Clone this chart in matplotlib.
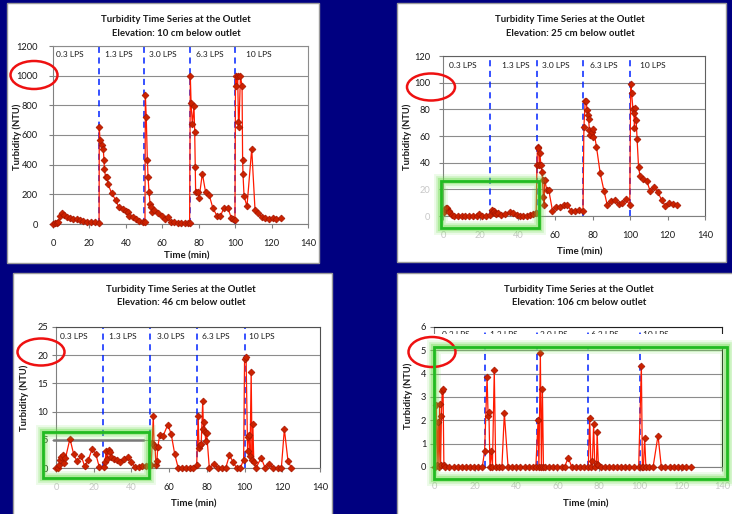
import matplotlib

matplotlib.use("Agg")
import matplotlib.pyplot as plt
from matplotlib.patches import Ellipse, Rectangle

plt.rcParams["font.family"] = ["Lato", "DejaVu Sans"]

W, H = 732, 514
NAVY = "#000080"
LINE_RED = "#ff1a00"
MARK_RED = "#cc2200"
DASH_BLUE = "#0022ff"
GRID = "#8c8c8c"
GLOW = "#66dd44"
BOX_GREEN = "#22bb22"
TEXT = "#1a1a1a"
FADED = "#c8c8c8"

flow_starts = [0, 25, 50, 75, 100]
flow_labels = ["0.3 LPS", "1.3 LPS", "3.0 LPS", "6.3 LPS", "10 LPS"]

# elevation 10 cm below outlet
t10 = [0, 1, 2, 3, 3.8, 4.8, 6, 7.5, 9.3, 11.2, 13, 14.8, 16.7, 18.9, 20.7, 22.9, 25.3,
       25.4, 25.8, 26.7, 27.6, 28.0, 28.2, 28.9, 29.5, 30.3, 32.2, 34.4, 36.2, 38.2, 39.9,
       41.0, 41.9, 43.7, 45.6, 47.4, 49.6, 50.5,
       50.7, 51.2, 51.8, 52.2, 52.7, 53.3, 54.0, 54.5, 55.5, 57.5, 59.7, 61.3, 63.2, 64.8,
       66.7, 68.6, 70.5, 72.4, 74.3, 75.0,
       75.4, 75.8, 76.5, 77.4, 77.8, 78.1, 78.3, 79.6, 80.2, 82.0, 83.8, 85.7, 87.8, 90.0,
       91.9, 93.7, 96.1, 97.9, 98.8, 99.9,
       100.2, 100.7, 101.4, 101.8, 102.1, 102.9, 103.8, 104.1, 104.3, 104.9, 106.5, 109.1,
       110.9, 112.7, 114.6, 116.4, 118.6, 120.8, 122.6, 125.0]
v10 = [0, 5, 9, 13, 54, 72, 61, 49, 43, 36, 31, 27, 22, 11, 13, 11, 9,
       652, 566, 533, 503, 431, 371, 315, 315, 267, 207, 162, 112, 101, 90,
       78, 54, 45, 31, 22, 13, 13,
       867, 721, 429, 317, 216, 133, 115, 79, 92, 77, 55, 35, 45, 15,
       14, 9, 5, 5, 4, 4,
       995, 818, 672, 793, 620, 384, 218, 218, 175, 340, 213, 198, 106, 56,
       52, 106, 106, 40, 34, 29,
       1000, 928, 1000, 688, 654, 1000, 928, 430, 340, 187, 119, 508,
       97, 74, 47, 40, 31, 43, 34, 38]

# elevation 25 cm below outlet
t25 = [0.3, 1, 1.5, 2.3, 3, 3.4, 4.6, 6, 8, 10, 12, 14, 16, 18, 19.5, 21, 23, 25, 26,
       26.5, 27.2, 27.8, 28.5, 29.6, 31, 33, 35.8, 37.6, 39.4, 41, 43, 44.7, 46.5, 48.3,
       49.8, 50.2, 50.5, 51.0, 51.5, 51.8, 52.3, 52.8, 53.2, 53.6, 54.0, 54.3, 55.5, 56.5,
       58.5, 60.5, 62.5, 64.5, 66.5, 68.5, 70.5, 72.5, 74.8,
       75.3, 76.0, 76.5, 77.0, 77.4, 77.8, 78.2, 78.8, 79.4, 80.0, 80.4, 82.0, 84.0, 86.0,
       87.8, 89.8, 91.8, 93.8, 95.8, 98.0, 99.8,
       100.3, 100.8, 101.5, 102.0, 102.3, 102.7, 103.2, 103.7, 104.5, 105.3, 107.0, 109.0,
       110.6, 112.8, 114.8, 116.8, 118.8, 121.0, 123.0, 125.0]
v25 = [3, 5, 6, 6, 4, 3, 1, 0, 0, 0, 0, 0, 0, 0, 1.5, 0, 0, 1, 4.5,
       3, 3.5, 2, 1.5, 2.5, 1, 1.5, 3, 2.5, 1, 0, 0, 0, 1, 1.5,
       2, 38, 52, 51, 38, 47, 38, 33, 27, 14, 8, 27, 19.5, 19.5,
       4, 7, 7, 8, 8, 4, 4, 4.5, 4,
       67, 86, 86, 79.5, 76, 73, 64.5, 61, 63, 59, 65, 52, 32, 19,
       8, 11, 12, 9, 10, 12.5, 8,
       99, 92, 80, 77, 66, 81, 72, 58, 36.5, 30, 28, 26,
       19, 21.5, 18, 12, 7.5, 9.5, 9, 8]

# elevation 46 cm below outlet
t46 = [0, 1, 1.8, 2.3, 2.8, 3.5, 4, 5, 7.4, 9.4, 11.1, 13.4, 15.2, 17.2, 19.2, 21.1,
       23, 25.2, 26.0, 26.6, 27.2, 28.0, 28.8, 29.4, 30.5, 32.3, 34.0, 35.8, 38.2, 40.0,
       41.7, 43.8, 45.6, 47.7, 49.3,
       50.5, 51.0, 51.6, 52.0, 52.5, 53.0, 53.5, 54.0, 55.0, 56.7, 59.3, 61.1, 63.0, 64.8,
       66.8, 68.8, 70.8, 72.8, 74.6,
       75.4, 75.8, 76.3, 77.0, 77.8, 78.2, 78.6, 79.0, 79.4, 79.9, 81.3, 83.7, 85.8, 88.0,
       90.0, 92.0, 93.8, 95.8, 97.8, 99.5,
       100.0, 100.8, 101.6, 102.0, 102.4, 102.9, 103.5, 104.0, 104.4, 104.9, 106.0, 108.8,
       110.9, 113.0, 115.3, 117.6, 119.5, 121.1, 123.0, 124.8]
v46 = [0, 0, 0.5, 1.4, 2, 2.3, 0.8, 1.7, 5.2, 2.4, 1.2, 2.1, 0.3, 1.5, 3.4, 2.5,
       0.1, 0.1, 1.0, 3.1, 1.6, 3.2, 2.9, 2.0, 1.6, 1.4, 1.1, 1.6, 1.9, 1.1,
       0.2, 0.2, 0.3, 0.3, 0.5,
       0.5, 4.5, 9.2, 4.0, 3.8, 0.5, 1.2, 3.8, 5.8, 5.6, 7.7, 6.0, 2.4, 0,
       0, 0, 0, 0, 0.5,
       9.2, 3.5, 4.0, 4.3, 11.8, 7.0, 8.2, 6.4, 4.8, 6.2, 0, 0.7, 0, 0,
       0, 2.3, 1.1, 0, 0, 1.5,
       19.4, 19.7, 3.0, 5.5, 5.8, 2.2, 17.0, 1.4, 7.8, 1.0, 0, 1.8,
       0, 0.7, 0, 0, 0, 6.9, 1.3, 0]

# elevation 106 cm below outlet
t106 = [0.5, 1.1, 1.5, 2.0, 2.4, 2.75, 3.2, 3.6, 4.0, 4.4, 4.8, 5.5, 7.5, 9.5, 11.5, 13.5,
        15.5, 17.5, 19.5, 21.5, 23.5,
        24.6, 25.8, 26.3, 26.7, 27.2, 27.9, 28.4, 29.3, 30.0, 31.5, 33.0, 34.2, 36.0, 38.0,
        40.0, 42.0, 44.0, 46.0, 48.0, 49.5,
        50.6, 51.0, 51.7, 52.2, 52.7, 53.2, 54.0, 56.0, 58.0, 60.0, 62.0, 63.5, 65.2, 67.0,
        69.0, 71.0, 73.0, 75.0,
        75.7, 76.3, 77.0, 77.6, 78.2, 79.0, 79.3, 79.9, 81.0, 83.0, 85.0, 87.0, 89.0, 91.0,
        93.0, 95.0, 97.0, 99.5,
        100.8, 101.3, 101.8, 102.4, 103.0, 104.5, 106.5, 108.9, 110.5, 112.5, 114.5, 116.5,
        118.5, 120.5, 122.5, 125.0]
v106 = [0, 2.65, 0.1, 1.95, 0, 2.7, 0.1, 2.2, 3.25, 3.35, 0.1, 0, 0, 0, 0, 0,
        0, 0, 0, 0, 0,
        0.7, 3.85, 2.2, 2.35, 0, 0.7, 0, 4.15, 0, 0, 0, 2.3, 0, 0,
        0, 0, 0, 0, 0, 0,
        2.0, 0, 4.9, 0, 3.35, 0, 0, 0, 0, 0, 0, 0, 0.4, 0,
        0, 0, 0, 0,
        2.1, 0, 0.25, 1.85, 0, 0.15, 1.5, 0.1, 0, 0, 0, 0, 0, 0,
        0, 0, 0, 0,
        4.35, 0, 0, 1.25, 0, 0, 0, 1.35, 0, 0, 0, 0,
        0, 0, 0, 0]


def fig_box(x0, y0, x1, y1):
    return [x0 / W, 1 - y1 / H, (x1 - x0) / W, (y1 - y0) / H]


def fx(x):
    return x / W


def fy(y):
    return 1 - y / H


fig = plt.figure(figsize=(W / 100, H / 100), dpi=100, facecolor=NAVY)

panels = [
    {
        "card": (7, 3, 319, 263), "axes": (53, 46, 308, 224),
        "t": t10, "v": v10, "ymax": 1200, "ystep": 200, "elev": "10 cm",
        "title_xy": (176, 20), "ylab_xy": (17, 137), "xlab_xy": (187, 256),
        "lps_x": [1.6, 28.5, 52.7, 78.4, 105.8], "lps_y": 1140,
        "ellipse": (34, 75, 47, 28), "faded_x": [], "faded_y": [],
        "frame": "#8c8c8c", "ypad": 8,
    },
    {
        "card": (397, 3, 726, 262), "axes": (443, 56, 705, 216),
        "t": t25, "v": v25, "ymax": 120, "ystep": 20, "elev": "25 cm",
        "title_xy": (570, 20), "ylab_xy": (407, 137), "xlab_xy": (580, 252),
        "lps_x": [3.2, 31.5, 52.8, 78.6, 105.0], "lps_y": 113,
        "ellipse": (431, 87, 48, 27), "faded_x": [0, 20, 40], "faded_y": [0, 20],
        "green": (441, 181, 539, 228), "frame": "#606060", "ypad": 6,
    },
    {
        "card": (13, 273, 332, 520), "axes": (56, 327, 320, 468),
        "t": t46, "v": v46, "ymax": 25, "ystep": 5, "elev": "46 cm",
        "title_xy": (181, 289), "ylab_xy": (24, 398), "xlab_xy": (194, 504),
        "lps_x": [2.3, 27.9, 53.8, 77.3, 102.6], "lps_y": 23.4,
        "ellipse": (41, 352, 47, 27), "faded_x": [0, 20, 40], "faded_y": [],
        "green": (43, 432, 149, 478), "frame": "#505050", "ypad": 2.5,
    },
    {
        "card": (397, 273, 740, 520), "axes": (434, 327, 722, 467),
        "t": t106, "v": v106, "ymax": 6, "ystep": 1, "elev": "106 cm",
        "title_xy": (579, 289), "ylab_xy": (408, 396), "xlab_xy": (586, 504),
        "lps_x": [4.0, 27.4, 51.7, 76.5, 101.6], "lps_y": 5.68,
        "ellipse": (432, 352, 47, 30),
        "faded_x": [0, 20, 40, 60, 80, 100, 120, 140], "faded_y": [],
        "green": (434, 347, 727, 479), "frame": "#202020", "ypad": 2.5,
    },
]

for p in panels:
    x0, y0, x1, y1 = p["card"]
    fig.add_artist(Rectangle((fx(x0), fy(y1)), (x1 - x0) / W, (y1 - y0) / H,
                             transform=fig.transFigure, facecolor="white",
                             edgecolor="#9a9a9a", lw=1.0, zorder=0))

    ax = fig.add_axes(fig_box(*p["axes"]))
    ax.set_facecolor("white")
    ax.set_xlim(0, 140)
    ax.set_ylim(0, p["ymax"])
    xt = list(range(0, 141, 20))
    yt = list(range(0, p["ymax"] + 1, p["ystep"]))
    ax.set_xticks(xt, [str(v) for v in xt])
    ax.set_yticks(yt, [str(v) for v in yt])
    for lab, v in zip(ax.get_xticklabels(), xt):
        lab.set_color(FADED if v in p["faded_x"] else TEXT)
    for lab, v in zip(ax.get_yticklabels(), yt):
        lab.set_color(FADED if v in p["faded_y"] else TEXT)
    ax.tick_params(direction="out", length=3, width=0.8, color="#808080", labelsize=6.7)
    ax.tick_params(axis="x", pad=7.5)
    ax.tick_params(axis="y", pad=p["ypad"])
    ax.yaxis.grid(True, color=GRID, lw=0.8)
    ax.set_axisbelow(True)
    for side in ("left", "bottom"):
        ax.spines[side].set_color("#808080")
    for side in ("top", "right"):
        ax.spines[side].set_color(p["frame"])

    for xs in flow_starts:
        ax.axvline(xs, color=DASH_BLUE, lw=1.1, ls=(0, (4, 3)), zorder=2)
    for xs, lab in zip(p["lps_x"], flow_labels):
        ax.text(xs, p["lps_y"], lab, fontsize=6.0, color=TEXT, ha="left", va="center", zorder=3)

    ax.plot(p["t"], p["v"], color=LINE_RED, lw=0.9, marker="D", ms=3.5,
            mfc=MARK_RED, mec="#a51500", mew=0.5, zorder=5, clip_on=False)

    if p["elev"] == "46 cm":
        ax.plot([-1, 46], [5, 5], color="#7a7a7a", lw=1.8, zorder=4, clip_on=False)
    if p["elev"] == "106 cm":
        # pasted overlay hides the lower half of the flow labels
        ax.add_patch(Rectangle((-1, 5.12), 142, 0.56, facecolor="white",
                               edgecolor="none", zorder=4, clip_on=False))

    tx, ty = p["title_xy"]
    fig.text(fx(tx), fy(ty), "Turbidity Time Series at the Outlet", ha="center",
             va="center", fontsize=6.9, fontweight="bold", color=TEXT)
    fig.text(fx(tx), fy(ty + 13.5), f"Elevation: {p['elev']} below outlet", ha="center",
             va="center", fontsize=6.9, fontweight="bold", color=TEXT)
    lx, ly = p["ylab_xy"]
    fig.text(fx(lx), fy(ly), "Turbidity (NTU)", rotation=90, ha="center", va="center",
             fontsize=6.8, fontweight="bold", color=TEXT)
    bx, by = p["xlab_xy"]
    fig.text(fx(bx), fy(by), "Time (min)", ha="center", va="center",
             fontsize=7.0, fontweight="bold", color=TEXT)

    ex, ey, ew, eh = p["ellipse"]
    fig.add_artist(Ellipse((fx(ex), fy(ey)), ew / W, eh / H, transform=fig.transFigure,
                           fill=False, edgecolor="#ee1111", lw=1.8, zorder=10))

    if "green" in p:
        gx0, gy0, gx1, gy1 = p["green"]
        for lw, alpha in [(10, 0.12), (7, 0.2), (4.5, 0.35)]:
            fig.add_artist(Rectangle((fx(gx0), fy(gy1)), (gx1 - gx0) / W, (gy1 - gy0) / H,
                                     transform=fig.transFigure, fill=False,
                                     edgecolor=GLOW, lw=lw, alpha=alpha, zorder=9))
        fig.add_artist(Rectangle((fx(gx0), fy(gy1)), (gx1 - gx0) / W, (gy1 - gy0) / H,
                                 transform=fig.transFigure, fill=False,
                                 edgecolor=BOX_GREEN, lw=2.0, zorder=10))

fig.savefig("out.png", dpi=100, facecolor=NAVY)
